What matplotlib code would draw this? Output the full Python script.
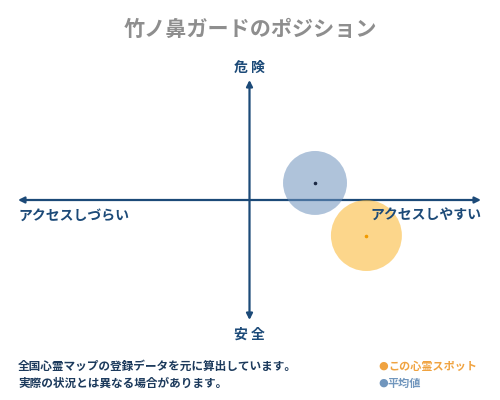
import matplotlib
matplotlib.use('Agg')
import matplotlib.pyplot as plt

plt.rcParams['font.family'] = ['Noto Sans CJK JP', 'DejaVu Sans']

# data
spot_names = ['この心霊スポット', '平均値']
access = [5.05, 2.83]      # + = easy to access
danger = [-2.96, 1.42]     # + = dangerous
bubble = [2610, 2120]

title = '竹ノ鼻ガードのポジション'
top_label = '危 険'
bottom_label = '安 全'
left_label = 'アクセスしづらい'
right_label = 'アクセスしやすい'
note_lines = ['全国心霊マップの登録データを元に算出しています。',
              '実際の状況とは異なる場合があります。']

navy = '#1c4a78'
fill_cols = ['#fbb52c', '#6e92bd']
dot_cols = ['#f19a00', '#1c2a44']
legend_cols = ['#f0a340', '#7196bd']

fig = plt.figure(figsize=(5, 4), dpi=100)
fig.patch.set_facecolor('white')
ax = fig.add_axes([18/500, 80/400, 463/500, 240/400])
ax.set_xlim(-10, 10)
ax.set_ylim(-10, 10)
ax.axis('off')

arrow = dict(arrowstyle='<|-|>', color=navy, lw=1.6, mutation_scale=9,
             shrinkA=0, shrinkB=0)
ax.annotate('', xy=(10, 0), xytext=(-10, 0), arrowprops=arrow, annotation_clip=False)
ax.annotate('', xy=(0, 10), xytext=(0, -10), arrowprops=arrow, annotation_clip=False)

for i in range(len(spot_names)):
    ax.scatter(access[i], danger[i], s=bubble[i], color=fill_cols[i],
               alpha=0.55, edgecolors='none', zorder=3, clip_on=False)
    ax.scatter(access[i], danger[i], s=2.5, color=dot_cols[i], zorder=4)

fig.text(0.5, 1 - 29/400, title, ha='center', va='center', fontsize=15.2,
         color='#8e8e8e', fontweight='bold')
fig.text(249.5/500, 1 - 68/400, top_label, ha='center', va='center',
         fontsize=10, color=navy, fontweight='bold')
fig.text(249.5/500, 1 - 335/400, bottom_label, ha='center', va='center',
         fontsize=10, color=navy, fontweight='bold')
fig.text(18/500, 1 - 216/400, left_label, ha='left', va='center',
         fontsize=10, color=navy, fontweight='bold')
fig.text(481/500, 1 - 216/400, right_label, ha='right', va='center',
         fontsize=10, color=navy, fontweight='bold')

fig.text(18/500, 1 - 366/400, note_lines[0], ha='left', va='center',
         fontsize=8.4, color='#1c3a5c', fontweight='bold')
fig.text(18/500, 1 - 383/400, note_lines[1], ha='left', va='center',
         fontsize=8.4, color='#1c3a5c', fontweight='bold')

for i, name in enumerate(spot_names):
    yy = 1 - (366 + 17 * i) / 400
    fig.text(378/500, yy, '●', ha='left', va='center', fontsize=8,
             color=legend_cols[i], family='DejaVu Sans')
    fig.text(388/500, yy, name, ha='left', va='center', fontsize=8,
             color=legend_cols[i], fontweight='bold')

fig.savefig('out.png', dpi=100)
